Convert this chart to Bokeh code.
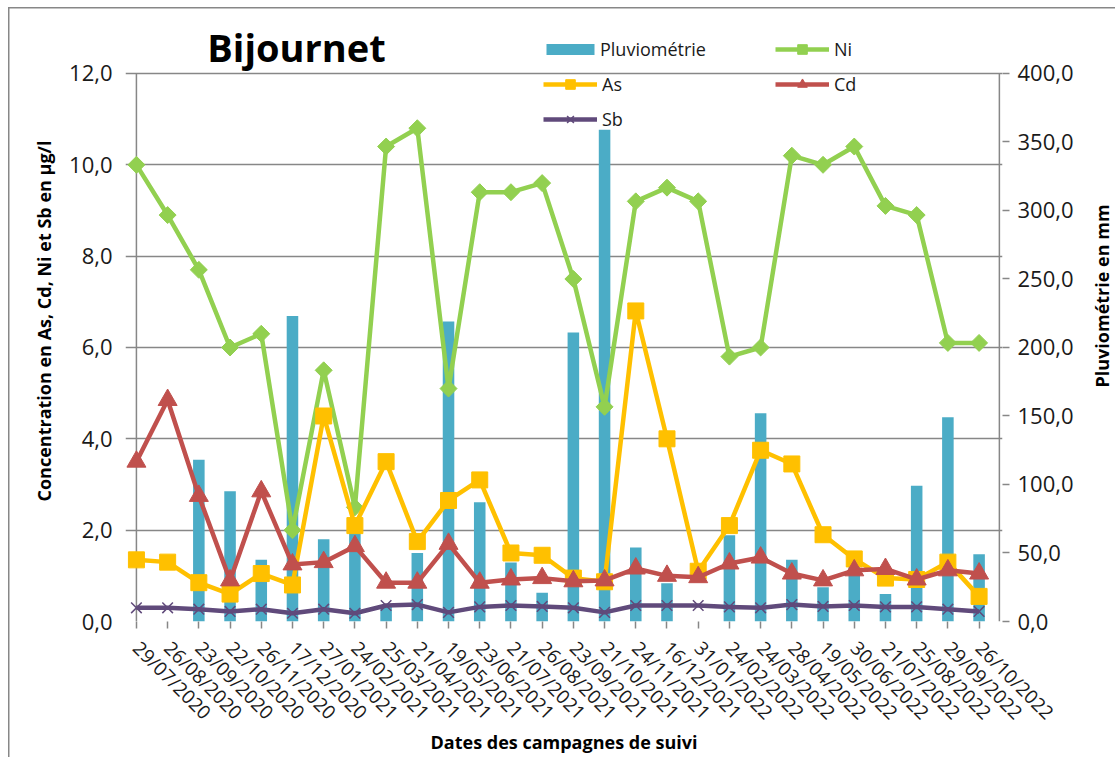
from math import pi
from bokeh.plotting import figure
from bokeh.layouts import row
from bokeh.models import (Range1d, LinearAxis, FixedTicker, Legend, LegendItem, Label)
from bokeh.embed import file_html
from bokeh.resources import INLINE

# ---------------- data ----------------
dates = ["29/07/2020", "26/08/2020", "23/09/2020", "22/10/2020", "26/11/2020",
         "17/12/2020", "27/01/2021", "24/02/2021", "25/03/2021", "21/04/2021",
         "19/05/2021", "23/06/2021", "21/07/2021", "26/08/2021", "23/09/2021",
         "21/10/2021", "24/11/2021", "16/12/2021", "31/01/2022", "24/02/2022",
         "24/03/2022", "28/04/2022", "19/05/2022", "30/06/2022", "21/07/2022",
         "25/08/2022", "29/09/2022", "26/10/2022"]
pluvio = [0, 0, 118, 95, 45, 223, 60, 65, 12, 50, 219, 87, 43, 21, 211, 359,
          54, 28, 0, 63, 152, 45, 25, 40, 20, 99, 149, 49]
ni = [10.0, 8.9, 7.7, 6.0, 6.3, 2.0, 5.5, 2.5, 10.4, 10.8, 5.1, 9.4, 9.4, 9.6,
      7.5, 4.7, 9.2, 9.5, 9.2, 5.8, 6.0, 10.2, 10.0, 10.4, 9.1, 8.9, 6.1, 6.1]
arsenic = [1.35, 1.3, 0.85, 0.6, 1.05, 0.8, 4.5, 2.1, 3.5, 1.75, 2.65, 3.1, 1.5,
           1.45, 0.95, 0.87, 6.8, 4.0, 1.1, 2.1, 3.75, 3.45, 1.9, 1.37, 0.95,
           0.92, 1.3, 0.55]
cd = [3.5, 4.85, 2.75, 0.9, 2.85, 1.25, 1.3, 1.65, 0.85, 0.85, 1.7, 0.85, 0.92,
      0.95, 0.88, 0.9, 1.16, 1.0, 0.97, 1.27, 1.4, 1.05, 0.9, 1.12, 1.15, 0.92,
      1.12, 1.05]
sb = [0.3, 0.3, 0.27, 0.22, 0.27, 0.18, 0.27, 0.18, 0.35, 0.37, 0.2, 0.32, 0.35,
      0.33, 0.3, 0.2, 0.35, 0.35, 0.35, 0.32, 0.3, 0.37, 0.33, 0.35, 0.32, 0.32,
      0.27, 0.22]
left_ticks = [0, 2, 4, 6, 8, 10, 12]
right_ticks = [0, 50, 100, 150, 200, 250, 300, 350, 400]
left_max = 12
right_max = 400

FONT = "Open Sans"
GRAY = "#878787"
C_BAR = "#4BACC6"
C_NI = "#92D050"
C_AS = "#FFC000"
C_CD = "#C0504D"
C_SB = "#604A7B"

x = list(range(len(dates)))

# frame extends a little above the 12,0 line so the title/legend fit inside it
Y_TOP = 13.16
X_START, X_END = -0.35, 27.75
X_RIGHT_AXIS = 27.65
H = 757

p = figure(width=1090, height=H,
           x_range=Range1d(X_START, X_END), y_range=Range1d(0, Y_TOP),
           output_backend="svg", toolbar_location=None,
           min_border_left=125, min_border_right=88, min_border_top=20,
           min_border_bottom=134, outline_line_color=None,
           background_fill_color="white", border_fill_color=None)
p.extra_y_ranges = {"rain": Range1d(0, Y_TOP * right_max / left_max)}
p.styles = {
    "background-color": "white",
    "background-image": "linear-gradient(#878787, #878787), linear-gradient(#878787, #878787)",
    "background-size": "1.5px 100%, 100% 1.5px",
    "background-position": "8px 7px, 8px 7px",
    "background-repeat": "no-repeat",
}

def fmt(v):
    return f"{v:.1f}".replace(".", ",")

# ---------------- axes ----------------
def style_axis(ax, size):
    ax.axis_line_color = None
    ax.major_tick_line_color = GRAY
    ax.major_tick_line_width = 1.5
    ax.major_tick_in = 0
    ax.minor_tick_line_color = None
    ax.major_label_text_font = FONT
    ax.major_label_text_color = "#1a1a1a"
    ax.major_label_text_font_size = size
    ax.axis_label_text_font = FONT
    ax.axis_label_text_font_style = "bold"
    ax.axis_label_text_color = "#000000"
    ax.axis_label_text_font_size = "18px"

xa = p.xaxis[0]
style_axis(xa, "19px")
xa.ticker = FixedTicker(ticks=x)
xa.major_label_overrides = {i: d for i, d in zip(x, dates)}
xa.major_label_orientation = -pi / 4
xa.major_tick_out = 7
xa.major_label_standoff = 16
xa.axis_label = "Dates des campagnes de suivi"
xa.axis_label_standoff = -7

ya = p.yaxis[0]
style_axis(ya, "22px")
ya.ticker = FixedTicker(ticks=left_ticks)
ya.major_label_overrides = {t: fmt(t) for t in left_ticks}
ya.major_tick_out = 0
ya.major_label_standoff = 13
ya.axis_label = "Concentration en As, Cd, Ni et Sb en µg/l"
ya.axis_label_standoff = 10

rax = LinearAxis(y_range_name="rain", ticker=FixedTicker(ticks=right_ticks),
                 major_label_overrides={t: fmt(t) for t in right_ticks})
style_axis(rax, "22px")
rax.major_tick_out = 7
rax.major_label_standoff = 8
p.add_layout(rax, "right")

p.xgrid.grid_line_color = None
p.ygrid.ticker = FixedTicker(ticks=left_ticks)
p.ygrid.grid_line_color = GRAY
p.ygrid.grid_line_width = 1.5

# axis lines (limited to the 0..12 / 0..400 span like the original)
p.segment(x0=[0, X_RIGHT_AXIS], y0=[0, 0], x1=[0, X_RIGHT_AXIS],
          y1=[left_max, left_max], line_color=GRAY, line_width=1.5)

# ---------------- glyphs ----------------
bars = p.vbar(x=x, top=pluvio, width=0.37, y_range_name="rain", fill_color=C_BAR,
              line_color=None)

ni_l = p.line(x, ni, line_color=C_NI, line_width=4.5, line_join="round")
ni_m = p.scatter(x, ni, marker="square", angle=pi / 4, size=12,
                 fill_color=C_NI, line_color=C_NI)
as_l = p.line(x, arsenic, line_color=C_AS, line_width=4.5, line_join="round")
as_m = p.scatter(x, arsenic, marker="square", size=16, fill_color=C_AS,
                 line_color=C_AS)
cd_l = p.line(x, cd, line_color=C_CD, line_width=4.5, line_join="round")
cd_m = p.scatter(x, cd, marker="triangle", size=19, fill_color=C_CD,
                 line_color=C_CD)
sb_l = p.line(x, sb, line_color=C_SB, line_width=4.5, line_join="round")
sb_m = p.scatter(x, sb, marker="x", size=15, line_color=C_SB, line_width=1.5)

# ---------------- legends ----------------
def make_legend(items, loc, gw=54, gh=24, standoff=5):
    return Legend(items=items, location=loc, label_text_font=FONT,
                  label_text_font_size="18px", label_text_color="#1a1a1a",
                  glyph_width=gw, glyph_height=gh, label_height=24, spacing=11,
                  padding=0, margin=0, label_standoff=standoff,
                  border_line_color=None, background_fill_alpha=0)

leg0 = make_legend([LegendItem(label="Pluviométrie", renderers=[bars])],
                   (415, 560), gw=60, gh=14, standoff=0)
leg1 = make_legend([LegendItem(label="As", renderers=[as_l, as_m]),
                    LegendItem(label="Sb", renderers=[sb_l, sb_m])], (418, 490))
leg2 = make_legend([LegendItem(label="Ni", renderers=[ni_l, ni_m]),
                    LegendItem(label="Cd", renderers=[cd_l, cd_m])], (650, 525))
for lg in (leg0, leg1, leg2):
    p.add_layout(lg)

# ---------------- title ----------------
p.add_layout(Label(x=171, y=575, x_units="screen", y_units="screen",
                   text="Bijournet", text_align="center", text_baseline="middle",
                   text_font=FONT, text_font_style="bold", text_font_size="38px",
                   text_color="#000000"))

# ---------------- right axis title (reads bottom-to-top) ----------------
p2 = figure(width=25, height=H, x_range=Range1d(0, 1), y_range=Range1d(0, 1),
            x_axis_location=None, y_axis_location=None, min_border=0,
            toolbar_location=None, output_backend="svg", outline_line_color=None,
            background_fill_color=None, border_fill_color=None)
p2.grid.visible = False
p2.styles = {
    "background-color": "white",
    "background-image": "linear-gradient(#878787, #878787)",
    "background-size": "100% 1.5px",
    "background-position": "0px 7px",
    "background-repeat": "no-repeat",
}
p2.add_layout(Label(x=0.46, y=(H - 347) / H, text="Pluviométrie en mm",
                    angle=pi / 2, text_align="center", text_baseline="middle",
                    text_font=FONT, text_font_style="bold", text_font_size="18px",
                    text_color="#000000"))

layout = row(p, p2)
open("out.html", "w").write(file_html(layout, INLINE))
